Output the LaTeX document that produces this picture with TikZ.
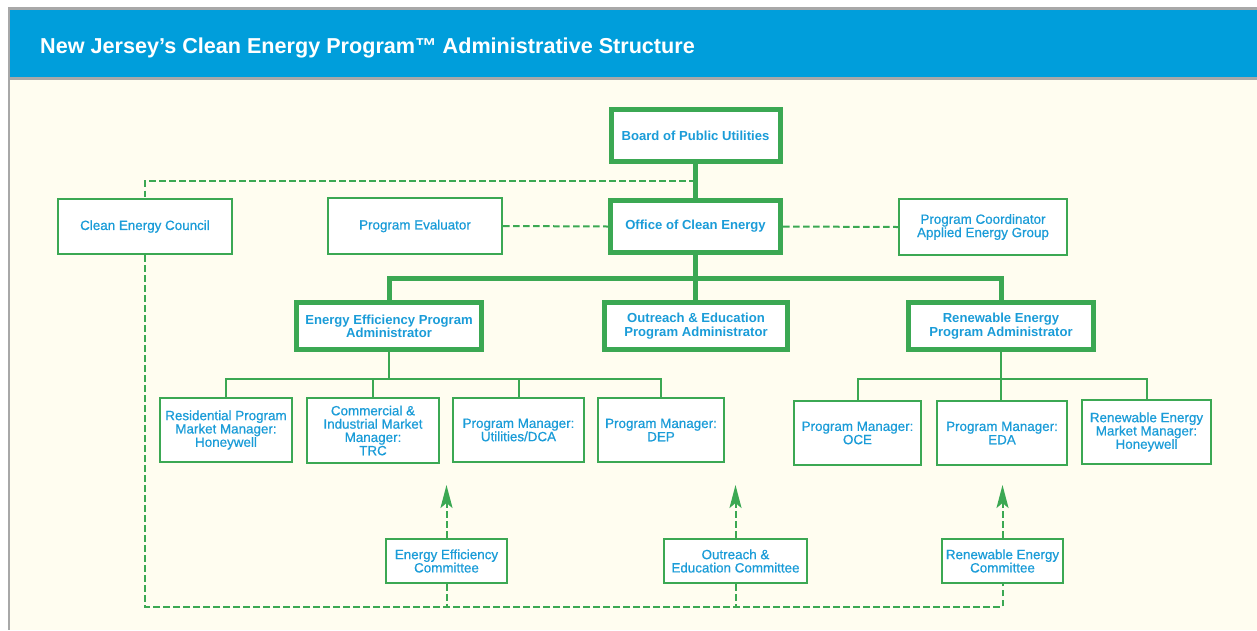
\documentclass[tikz,border=0pt]{standalone}
\usepackage{fontspec}
\setmainfont{Liberation Sans}
\newfontfamily\medfont[FakeBold=0.6]{Liberation Sans}
\usetikzlibrary{arrows.meta}
\definecolor{ngreen}{HTML}{3BA853}
\definecolor{nblue}{HTML}{1A9CD8}
\definecolor{hblue}{HTML}{009EDB}
\definecolor{cream}{HTML}{FFFDF0}
\definecolor{gline}{HTML}{A8A8A8}
\tikzset{
  thickbox/.style={draw=ngreen, line width=5pt, fill=white, text=nblue, align=center,
    font=\bfseries\fontsize{13.1}{13.3}\selectfont, inner sep=0pt},
  thinbox/.style={draw=ngreen, line width=2.2pt, fill=white, text=nblue, align=center,
    font=\medfont\fontsize{13.4}{13.3}\selectfont, inner sep=0pt},
  thickcon/.style={draw=ngreen, line width=5pt, line join=miter},
  thincon/.style={draw=ngreen, line width=2pt, line join=miter},
  dashcon/.style={draw=ngreen, line width=2pt, dash pattern=on 6.5pt off 3.5pt},
  uparrow/.style={dashcon, -{Stealth[length=23pt,width=12pt,inset=5pt]}},
}
\begin{document}
\begin{tikzpicture}[x=1pt,y=-1pt]
\useasboundingbox (0,0) rectangle (1257,630);
\fill[white] (0,0) rectangle (1257,630);
\fill[cream] (9,79) rectangle (1257,630);
\fill[hblue] (9,9) rectangle (1257,78);
\draw[gline, line width=2.5pt] (8,8.5) -- (1257,8.5);
\draw[gline, line width=2.5pt] (9,78.5) -- (1257,78.5);
\draw[gline, line width=2.5pt] (9,7.5) -- (9,630);
\node[anchor=base west, text=white, font=\bfseries\fontsize{21.6}{24}\selectfont, inner sep=0pt] (title) at (40,53) {New Jersey’s Clean Energy Program™ Administrative Structure};

% thick boxes
\node[thickbox, minimum width=169pt, minimum height=52pt] (bpu) at (695.5,135.5) {Board of Public Utilities};
\node[thickbox, minimum width=170pt, minimum height=52pt] (oce) at (695.5,226.5) {Office of Clean Energy};
\node[thickbox, minimum width=185pt, minimum height=47pt] (eea) at (389,326) {Energy Efficiency Program\\Administrator};
\node[thickbox, minimum width=183pt, minimum height=47pt] (oea) at (696,326) {Outreach \& Education\\Program Administrator};
\node[thickbox, minimum width=185pt, minimum height=47pt] (rea) at (1001,326) {Renewable Energy\\Program Administrator};

% thin boxes
\node[thinbox, minimum width=174pt, minimum height=55pt] (cec) at (145,226.5) {Clean Energy Council};
\node[thinbox, minimum width=174pt, minimum height=56pt] (pe) at (415,226) {Program Evaluator};
\node[thinbox, minimum width=168pt, minimum height=56pt] (pc) at (983,227) {Program Coordinator\\Applied Energy Group};
\node[thinbox, minimum width=132pt, minimum height=64pt] (res) at (226,430) {Residential Program\\Market Manager:\\Honeywell};
\node[thinbox, minimum width=132pt, minimum height=65pt] (cim) at (373,430.5) {Commercial \&\\Industrial Market\\Manager:\\TRC};
\node[thinbox, minimum width=131pt, minimum height=64pt] (pmu) at (518.5,430) {Program Manager:\\Utilities/DCA};
\node[thinbox, minimum width=126pt, minimum height=64pt] (pmd) at (661,430) {Program Manager:\\DEP};
\node[thinbox, minimum width=127pt, minimum height=64pt] (pmo) at (857.5,433) {Program Manager:\\OCE};
\node[thinbox, minimum width=130pt, minimum height=64pt] (pme) at (1002,433) {Program Manager:\\EDA};
\node[thinbox, minimum width=129pt, minimum height=64pt] (rem) at (1146.5,432) {Renewable Energy\\Market Manager:\\Honeywell};
\node[thinbox, minimum width=121pt, minimum height=44pt] (eec) at (446.5,561) {Energy Efficiency\\Committee};
\node[thinbox, minimum width=143pt, minimum height=44pt] (oec) at (735.5,561) {Outreach \&\\Education Committee};
\node[thinbox, minimum width=121pt, minimum height=44pt] (rec) at (1002.5,561) {Renewable Energy\\Committee};

% coordinates
\coordinate (j1) at (695.5,181);
\coordinate (bus) at (695.5,278);
\coordinate (eeb) at (389,379);
\coordinate (reb) at (1001,379);
\coordinate (bl) at (145,607);
\coordinate (a1) at (446.5,485);
\coordinate (a2) at (735.5,485);
\coordinate (a3) at (1002.5,485);

% thick connectors
\draw[thickcon] (bpu.south) -- (oce.north);
\draw[thickcon] (oce.south) -- (oce.south |- oea.north);
\draw[thickcon] (eea.north) |- (bus) -| (rea.north);

% dashed connectors top
\draw[dashcon] (j1) -| (cec.north);
\draw[dashcon] (pe.east) -- (oce.west);
\draw[dashcon] (oce.east) -- (pc.west);

% EE tree
\draw[thincon] (eea.south) -- (eeb);
\draw[thincon] (res.north) |- (eeb) -| (pmd.north);
\draw[thincon] (cim.north) -- (cim.north |- eeb);
\draw[thincon] (pmu.north) -- (pmu.north |- eeb);

% RE tree
\draw[thincon] (rea.south) -- (rea.south |- pme.north);
\draw[thincon] (pmo.north) |- (reb) -| (rem.north);

% committee arrows
\draw[uparrow] (eec.north) -- (a1);
\draw[uparrow] (oec.north) -- (a2);
\draw[uparrow] (rec.north) -- (a3);

% bottom dashed loop
\draw[dashcon] (cec.south) -- (bl) -| (rec.south);
\draw[dashcon] (eec.south) -- (eec.south |- bl);
\draw[dashcon] (oec.south) -- (oec.south |- bl);
\end{tikzpicture}
\end{document}
